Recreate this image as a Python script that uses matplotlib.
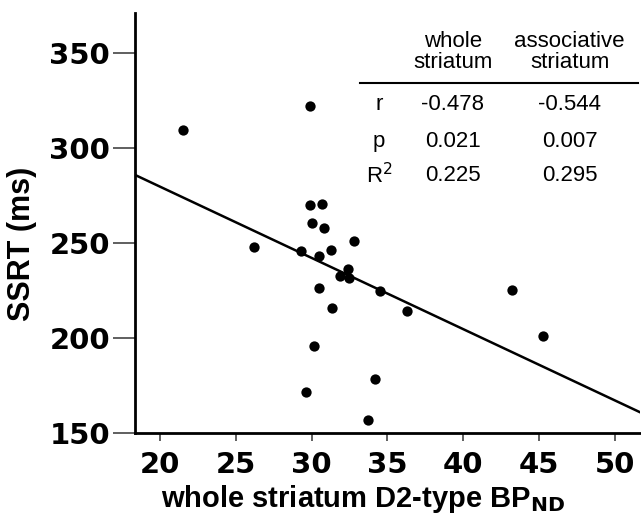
import matplotlib.pyplot as plt
import numpy as np

# whole striatum D2-type BPnd vs SSRT (ms)
bp = [21.5, 29.9, 26.2, 29.9, 30.7, 30.0, 30.8, 32.8, 29.3, 30.5, 31.25,
      32.4, 31.9, 32.5, 34.5, 30.5, 31.35, 36.3, 43.2, 45.3, 30.15, 34.2,
      29.6, 33.7]
ssrt = [309.5, 322, 248, 270, 270.5, 260.4, 257.7, 251.2, 245.8, 243.2, 246.2,
        236.2, 232.8, 231.7, 224.7, 226.5, 215.6, 214.4, 225.3, 201, 196, 178.3,
        171.6, 156.7]

# regression line
line_x = [18.35, 51.65]
line_y = [285.8, 161.0]

col_heads = ["whole\nstriatum", "associative\nstriatum"]
row_heads = ["r", "p", "R$^2$"]
whole = ["-0.478", "0.021", "0.225"]
assoc = ["-0.544", "0.007", "0.295"]

fig = plt.figure(figsize=(6.41, 5.19), dpi=100)
ax = fig.add_axes([0.2106, 0.1657, 0.7874, 0.8093])

ax.scatter(bp, ssrt, s=55, color="black", zorder=3, linewidths=0)
ax.plot(line_x, line_y, color="black", lw=1.8)

ax.set_xlim(18.35, 51.65)
ax.set_ylim(150, 371)
ax.set_xticks([20, 25, 30, 35, 40, 45, 50])
ax.set_yticks([150, 200, 250, 300, 350])
for s in ["top", "right"]:
    ax.spines[s].set_visible(False)
for s in ["left", "bottom"]:
    ax.spines[s].set_linewidth(2)
ax.tick_params(axis="y", length=16, width=1.2, color="#444444", labelsize=21, pad=2)
ax.tick_params(axis="x", length=6, width=1.2, color="#444444", labelsize=21, pad=7)
for lab in ax.get_xticklabels() + ax.get_yticklabels():
    lab.set_fontweight("bold")
    lab.set_family("DejaVu Sans")

ax.set_xlabel("whole striatum D2-type BP$_{\\mathbf{ND}}$", fontsize=21,
              fontweight="bold", family="Liberation Sans")
ax.xaxis.set_label_coords(0.453, -0.118)
ax.set_ylabel("SSRT (ms)", fontsize=22, fontweight="bold",
              family="Liberation Sans")
ax.yaxis.set_label_coords(-0.195, 0.45)

# stats table, axes coordinates
tf = dict(family="Liberation Sans", fontsize=16, ha="center", va="center",
          transform=ax.transAxes)
cx = [0.630, 0.861]
for x, h in zip(cx, col_heads):
    ax.text(x, 0.907, h, linespacing=0.95, **tf)
ax.plot([0.446, 0.996], [0.833, 0.833], color="black", lw=1.5,
        transform=ax.transAxes, clip_on=False)
rows_y = [0.781, 0.695, 0.612]
for y, rh, a, b in zip(rows_y, row_heads, whole, assoc):
    ax.text(0.483, y, rh, **tf)
    ax.text(cx[0], y, a, **tf)
    ax.text(cx[1], y, b, **tf)

fig.savefig("out.png", dpi=100)
